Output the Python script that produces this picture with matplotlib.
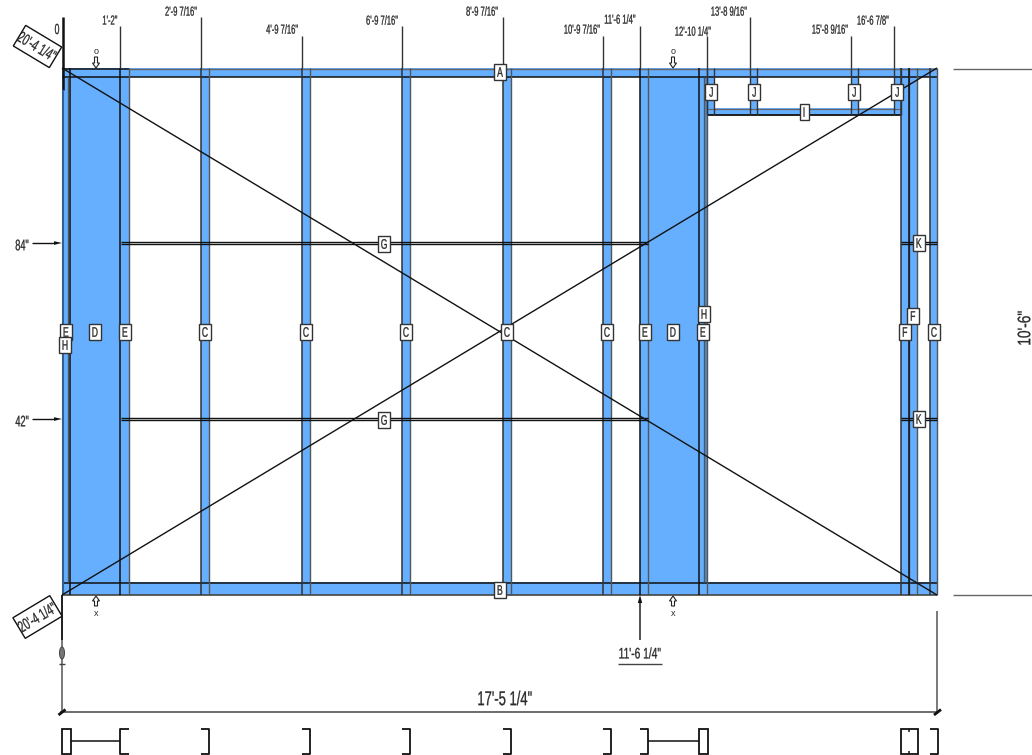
import matplotlib
matplotlib.use("Agg")
import matplotlib.pyplot as plt
from matplotlib.patches import Rectangle, Polygon, Ellipse
from matplotlib.text import Text
from matplotlib.textpath import TextPath
from matplotlib.transforms import Affine2D, Bbox
from matplotlib.colors import to_rgba
import math

plt.rcParams['font.family'] = ['Liberation Sans', 'DejaVu Sans']

BLUE = '#66AFFF'
INK = '#111111'
TXT = '#2a2a2a'

# studs: (left, right) in drawing units
studs_full = [(120, 129), (201, 209), (302, 310), (402, 410), (503, 511), (603, 611),
              (640, 648), (699, 707), (901, 909), (909, 917), (930, 937)]
stubs_top = [(707, 714), (750, 757), (851, 858), (894, 901)]
sheets = [(70, 120), (648, 699)]

top_dims = ["1'-2\"", "2'-9 7/16\"", "4'-9 7/16\"", "6'-9 7/16\"", "8'-9 7/16\"", "10'-9 7/16\"",
            "11'-6 1/4\"", "12'-10 1/4\"", "13'-8 9/16\"", "15'-8 9/16\"", "16'-6 7/8\""]
top_dim_x = [120, 201, 302, 402, 503, 603, 640, 707, 750, 851, 894]
top_dim_line_top = [26, 17, 36, 26, 17, 36, 26, 36, 17, 36, 26]
top_dim_text_x = [110, 181, 282, 382, 482, 582, 620, 693, 729, 830, 873]
top_dim_text_y = [20, 11, 29, 20, 11, 29, 19, 31, 11, 29, 20]

tags = ['A', 'B', 'C', 'C', 'C', 'C', 'C', 'C', 'E', 'E', 'E', 'E', 'D', 'D', 'H', 'H', 'F', 'F',
        'G', 'G', 'I', 'J', 'J', 'J', 'J', 'K', 'K']
tag_x = [500, 500, 205, 306, 406, 507, 607, 934, 66, 125, 645, 703, 95, 673, 65, 704, 905, 913,
         384, 384, 804, 711, 754, 854, 897, 919, 919]
tag_y = [72, 590, 332, 332, 332, 332, 332, 332, 332, 332, 332, 332, 332, 332, 345, 314, 332, 316,
         244, 420, 112, 92, 92, 92, 92, 243, 419]

blocking_y = [243, 419]
section_channels_r = [201, 302, 402, 503, 603, 640, 930]

fig = plt.figure(figsize=(10.32, 7.55), dpi=100)
ax = fig.add_axes([0, 0, 1, 1])
ax.set_xlim(0, 1032)
ax.set_ylim(755, 0)
ax.axis('off')


class NarrowText(Text):
    """Text centred on its anchor, with its glyphs narrowed like a condensed CAD font."""

    def __init__(self, x, y, s, squeeze=0.6, **kw):
        self.squeeze = squeeze
        super().__init__(x, y, s, ha='center', va='center', **kw)

    def _outline(self, dpi):
        fp = self.get_fontproperties()
        px = fp.get_size_in_points() * dpi / 72
        tp = TextPath((0, 0), self.get_text(), size=px, prop=fp)
        bb = tp.get_extents()
        cx, cy = self.get_transform().transform(self.get_position())
        tr = (Affine2D().translate(-(bb.x0 + bb.x1) / 2, -(bb.y0 + bb.y1) / 2)
              .scale(self.squeeze, 1).rotate_deg(self.get_rotation()).translate(cx, cy))
        return tp, tr

    def draw(self, renderer):
        if not self.get_visible():
            return
        tp, tr = self._outline(renderer.points_to_pixels(72))
        gc = renderer.new_gc()
        gc.set_foreground(self.get_color())
        gc.set_linewidth(0.2)
        gc.set_antialiased(True)
        gc.set_snap(False)
        renderer.draw_path(gc, tp, tr, to_rgba(self.get_color()))
        gc.restore()
        self.stale = False

    def get_window_extent(self, renderer=None, dpi=None):
        tp, tr = self._outline(dpi or self.figure.dpi)
        return Bbox(tp.transformed(tr).get_extents())


def label(x, y, s, size, squeeze=0.6, rot=0, z=8):
    t = NarrowText(x, y, s, squeeze=squeeze, fontsize=size, rotation=rot, color=TXT,
                   transform=ax.transData, zorder=z)
    ax.add_artist(t)
    return t


def line(xs, ys, lw=1.0, c=INK, z=5):
    ax.plot(xs, ys, color=c, lw=lw, solid_capstyle='butt', zorder=z)


def blue_rect(x0, x1, y0, y1, z=1):
    ax.add_patch(Rectangle((x0, y0), x1 - x0, y1 - y0, fc=BLUE, ec='none', zorder=z))


# filled members
for a, b in sheets + studs_full + stubs_top + [(62, 70)]:
    y0, y1 = (68, 115) if (a, b) in stubs_top else (68, 595)
    blue_rect(a, b, y0, y1)
blue_rect(62, 937, 68, 76.5)
blue_rect(62, 937, 582, 595)
blue_rect(707, 901, 108, 115)

# plate edges
line([62, 129], [68.5, 68.5], 1.1)
line([129, 937], [68.5, 68.5], 1.0, '#666666')
line([62, 937], [76.5, 76.5], 1.1)
line([62, 937], [582.5, 582.5], 1.1)
line([62, 937], [594.7, 594.7], 1.2, '#444444')
line([707, 901], [108.5, 108.5], 0.9, '#666666')
line([707, 901], [115, 115], 1.3)

# stud edges
for a, b in studs_full:
    line([a, a], [68, 595], 1.1, INK if a in (120, 640, 699, 909) else '#333333')
    line([b, b], [68, 595], 1.0, '#555555')
for a, b in stubs_top:
    line([a, a], [68, 115], 1.0, '#333333')
    line([b, b], [68, 115], 1.0, '#333333')

# left and right double members
line([62.5, 62.5], [17, 90], 1.8, '#111111')
line([62.7, 62.7], [90, 595], 1.5, '#2f5f94')
line([70.3, 70.3], [68, 595], 1.1)
line([68.4, 68.4], [77, 582], 1.0, '#555555')
line([703.5, 703.5], [77, 582], 1.0, '#555555')
ax.add_patch(Rectangle((703.5, 77), 4, 505, fc='#4A8FDB', ec='none', zorder=2))

# blocking
for y in blocking_y:
    line([121, 648], [y - 1.5, y - 1.5], 1.0)
    line([121, 648], [y + 1, y + 1], 1.0)
    line([901, 937], [y - 1.5, y - 1.5], 1.0)
    line([901, 937], [y + 1, y + 1], 1.0)

# diagonals
line([62, 937], [68, 595], 1.0, INK, 6)
line([62, 937], [595, 68], 1.0, INK, 6)

# top dimensions
for lab, x, yt, tx, ty in zip(top_dims, top_dim_x, top_dim_line_top, top_dim_text_x, top_dim_text_y):
    line([x, x], [yt, 68], 1.0, '#333333')
    label(tx, ty, lab, 9.4, 0.58)

label(57, 29, '0', 10.5, 0.6)


# rotated dimension boxes
def slanted_box(cx, cy, long_side, short_side, ang_deg):
    a = math.radians(ang_deg)
    ux, uy = math.cos(a), math.sin(a)
    vx, vy = -uy, ux
    pts = []
    for s, t in [(-1, -1), (1, -1), (1, 1), (-1, 1)]:
        pts.append([cx + s * long_side / 2 * ux + t * short_side / 2 * vx,
                    cy + s * long_side / 2 * uy + t * short_side / 2 * vy])
    ax.add_patch(Polygon(pts, fc='white', ec=INK, lw=1.0, zorder=7))


slanted_box(37.5, 46.5, 42, 24, 31)
label(37, 46, "20'-4 1/4\"", 11.5, 0.62, rot=-31)
slanted_box(37.5, 617, 43, 24, -31)
label(37, 617, "20'-4 1/4\"", 11.5, 0.62, rot=31)

# side dimensions
for lab, y in zip(['84"', '42"'], blocking_y):
    label(22, y + 2, lab, 11, 0.6)
    line([32, 56], [y, y], 1.0)
    ax.add_patch(Polygon([[54, y - 1.8], [62, y], [54, y + 1.8]], fc=INK, ec='none', zorder=5))

# section arrows
for x, lab, top in [(96, 'o', True), (673, 'o', True), (96, 'x', False), (673, 'x', False)]:
    if top:
        pts = [[x - 1.5, 57], [x + 1.5, 57], [x + 1.5, 63], [x + 3.5, 63], [x, 68], [x - 3.5, 63], [x - 1.5, 63]]
        ty = 52
    else:
        pts = [[x - 1.5, 606], [x + 1.5, 606], [x + 1.5, 601], [x + 3.5, 601], [x, 596], [x - 3.5, 601], [x - 1.5, 601]]
        ty = 613
    ax.add_patch(Polygon(pts, fc='white', ec='#222222', lw=0.8, zorder=6))
    ax.text(x, ty, lab, fontsize=6.5, ha='center', va='center', color=TXT)

# lower dimensions
line([62, 62], [595, 712], 1.1, '#555555')
line([62, 62], [595, 640], 1.4, '#222222')
line([937, 937], [611, 712], 1.1, '#555555')
line([60, 938], [712, 712], 1.1, '#444444')
line([58.5, 65.5], [715, 709.5], 2.0)
line([934, 941], [715, 709.5], 2.0)
ax.add_patch(Ellipse((62, 653), 5, 12, fc='#777777', ec='#444444', lw=0.7, zorder=6))
line([59, 65], [663.5, 663.5], 1.0, '#444444')
label(505, 698, "17'-5 1/4\"", 14.4, 0.65)
label(1024, 328, "10'-6\"", 13, 0.76, rot=90)
line([953, 1032], [68.5, 68.5], 1.0, '#666666')
line([953, 1032], [594.7, 594.7], 1.0, '#666666')

# 11'-6 1/4" callout
line([640, 640], [640, 602], 1.2, '#333333')
ax.add_patch(Polygon([[637.8, 603], [640, 595], [642.2, 603]], fc=INK, ec='none', zorder=6))
label(640, 653, "11'-6 1/4\"", 11, 0.67)
line([618, 662], [663.5, 663.5], 1.0, '#444444')

# tags
for t, x, y in zip(tags, tag_x, tag_y):
    w = 9 if t == 'I' else 12
    ax.add_patch(Rectangle((x - w / 2, y - 8), w, 16, fc='white', ec='#333333', lw=1.0, zorder=9))
    label(x, y, t, 10, 0.62, z=10)


# section view along the bottom
def channel(x0, x1, opens_left):
    y0, y1 = 729, 753.5
    if opens_left:
        line([x0, x1, x1, x0], [y0, y0, y1, y1], 1.3)
    else:
        line([x1, x0, x0, x1], [y0, y0, y1, y1], 1.3)


ax.add_patch(Rectangle((62, 729), 9, 24.5, fc='none', ec=INK, lw=1.3, zorder=5))
ax.add_patch(Rectangle((699, 729), 8.5, 24.5, fc='none', ec=INK, lw=1.3, zorder=5))
ax.add_patch(Rectangle((901, 729), 16.5, 24.5, fc='none', ec=INK, lw=1.3, zorder=5))
line([909.3, 909.3], [729, 732], 1.1)
line([909.3, 909.3], [750.5, 753.5], 1.1)
channel(120, 129, False)
for x in section_channels_r:
    channel(x, x + 8, True)
line([71, 120], [741, 741], 1.1)
line([648, 699], [741, 741], 1.1)

fig.savefig('out.png', dpi=100)
